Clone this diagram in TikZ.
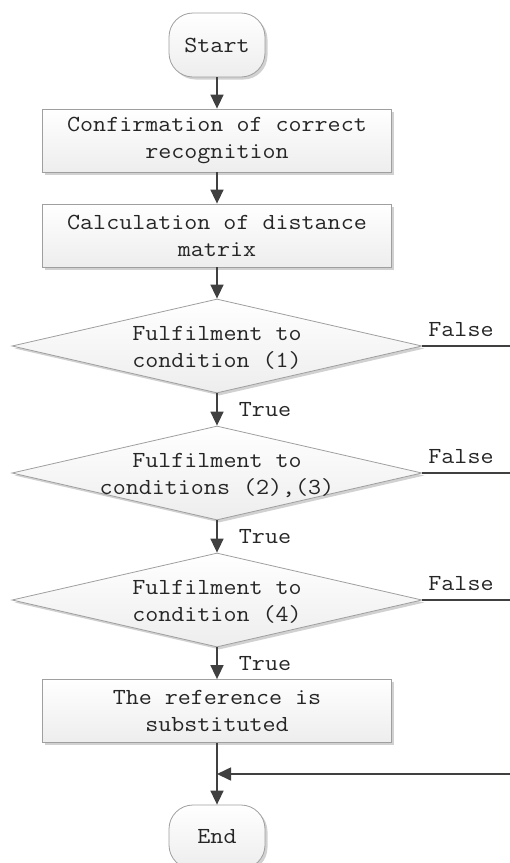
\documentclass[tikz,border=0pt]{standalone}
\usepackage{fontspec}
\setmonofont[FakeStretch=1.1]{Latin Modern Mono}
\usetikzlibrary{shapes.geometric,arrows.meta,shadows}
\begin{document}
\begin{tikzpicture}[x=1pt,y=-1pt,
  every node/.style={font=\ttfamily\fontsize{23}{27}\selectfont, text=black!85},
  shapebase/.style={draw=gray!75, line width=0.8pt, top color=white, bottom color=gray!14,
    drop shadow={shadow xshift=2.5pt, shadow yshift=-2.5pt, fill=black!18, opacity=1},
    align=center, inner sep=0pt},
  box/.style={shapebase, minimum width=349pt, minimum height=63pt},
  term/.style={shapebase, rounded corners=24pt, minimum width=96pt, minimum height=64pt},
  dia/.style={shapebase, diamond, minimum width=410pt, minimum height=94pt},
  txt/.style={align=center, inner sep=0pt},
  conn/.style={draw=black!75, line width=1.6pt},
  arr/.style={conn, -{Triangle[length=14pt,width=13pt]}},
  lbl/.style={inner sep=0pt}
]
\useasboundingbox (0,0) rectangle (510,863);
\path[clip] (0,0) rectangle (510,863);

\node[term] (start) at (217,45) {Start};
\node[box] (b1) at (217,140.5) {Confirmation of correct\\recognition};
\node[box] (b2) at (217,235.5) {Calculation of distance\\matrix};
\node[dia] (d1) at (217,346) {};
\node[txt] (t1) at (217,348) {Fulfilment to\\condition (1)};
\node[dia] (d2) at (217,473) {};
\node[txt] (t2) at (217,475) {Fulfilment to\\conditions (2),(3)};
\node[dia] (d3) at (217,600) {};
\node[txt] (t3) at (217,602) {Fulfilment to\\condition (4)};
\node[box] (b3) at (217,711) {The reference is\\substituted};
\node[term] (end) at (217,837) {End};

\coordinate (f1) at (510,346);
\coordinate (f2) at (510,473);
\coordinate (f3) at (510,600);
\coordinate (m0) at (510,774);

\draw[arr] (start) -- (b1);
\draw[arr] (b1) -- (b2);
\draw[arr] (b2) -- (d1.north);
\draw[arr] (d1.south) -- (d2.north);
\draw[arr] (d2.south) -- (d3.north);
\draw[arr] (d3.south) -- (b3);
\draw[arr] (b3) -- (end);
\draw[conn] (d1.east) -- (f1);
\draw[conn] (d2.east) -- (f2);
\draw[conn] (d3.east) -- (f3);
\draw[arr] (m0) -- (m0 -| b3.south);

\node[lbl] (tr1) at (265,410) {True};
\node[lbl] (tr2) at (265,537) {True};
\node[lbl] (tr3) at (265,664) {True};
\node[lbl] (fa1) at (461,330) {False};
\node[lbl] (fa2) at (461,457) {False};
\node[lbl] (fa3) at (461,584) {False};
\end{tikzpicture}
\end{document}
